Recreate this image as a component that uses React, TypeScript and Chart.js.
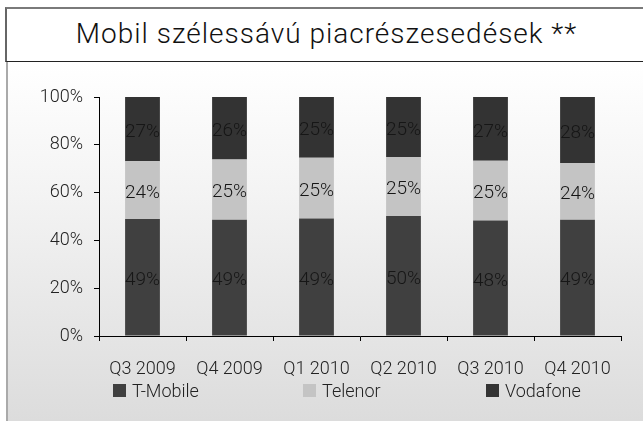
import React, { useEffect, useRef } from "react";
import { Chart, registerables } from "chart.js";

Chart.register(...registerables);

const TITLE = "Mobil szélessávú piacrészesedések **";
const categories = ["Q3 2009", "Q4 2009", "Q1 2010", "Q2 2010", "Q3 2010", "Q4 2010"];
const seriesNames = ["T-Mobile", "Telenor", "Vodafone"];
const tMobile = [49.0, 48.6, 49.2, 50.2, 48.3, 48.6];
const telenor = [24.1, 25.2, 25.4, 24.7, 25.0, 23.8];
const vodafone = [26.9, 26.2, 25.4, 25.1, 26.7, 27.6];
const seriesColors = ["#404040", "#c4c4c4", "#333333"];
const yTicks = [0, 20, 40, 60, 80, 100];

const FONT = 'Roboto, "Liberation Sans", sans-serif';
const TEXT = "#222222";
const FS = 18;
const LEGEND_X = [113, 303, 486];

const valueLabels = {
  id: "valueLabels",
  afterDatasetsDraw(chart: any) {
    const ctx = chart.ctx;
    ctx.save();
    ctx.font = `300 ${FS + 1}px ${FONT}`;
    ctx.fillStyle = "#161616";
    ctx.textAlign = "center";
    ctx.textBaseline = "middle";
    chart.data.datasets.forEach((ds: any, di: number) => {
      const meta = chart.getDatasetMeta(di);
      meta.data.forEach((el: any, i: number) => {
        const { x, y, base } = el.getProps(["x", "y", "base"], true);
        ctx.fillText(Math.round(ds.data[i]) + "%", x, (y + base) / 2 + 3);
      });
    });
    ctx.restore();
  },
};

export default function App() {
  const ref = useRef<HTMLCanvasElement>(null);

  useEffect(() => {
    const series = [tMobile, telenor, vodafone];
    const chart = new Chart(ref.current as HTMLCanvasElement, {
      type: "bar",
      data: {
        labels: categories,
        datasets: seriesNames.map((name, i) => ({
          label: name,
          data: series[i],
          backgroundColor: seriesColors[i],
          borderWidth: 0,
          categoryPercentage: 1,
          barPercentage: 0.4,
        })),
      },
      options: {
        animation: false,
        responsive: false,
        maintainAspectRatio: false,
        layout: { padding: { left: 0, top: 35, right: 22, bottom: 40 } },
        plugins: {
          legend: { display: false },
          title: { display: false },
          tooltip: { enabled: false },
        },
        scales: {
          x: {
            stacked: true,
            offset: true,
            grid: {
              offset: true,
              drawOnChartArea: false,
              tickLength: 5,
              color: "#000",
            },
            border: { color: "#000", width: 1 },
            ticks: {
              color: TEXT,
              font: { family: FONT, size: FS, weight: "300" },
              padding: 18,
              maxRotation: 0,
            },
            afterFit: (s: any) => {
              s.height = 45;
            },
          },
          y: {
            stacked: true,
            min: 0,
            max: 100,
            afterBuildTicks: (s: any) => {
              s.ticks = yTicks.map((v) => ({ value: v }));
            },
            grid: { drawOnChartArea: false, tickLength: 5, color: "#000" },
            border: { color: "#000", width: 1 },
            ticks: {
              color: TEXT,
              font: { family: FONT, size: FS, weight: "300" },
              padding: 11,
              callback: (v: any) => v + "%",
            },
            afterFit: (s: any) => {
              s.width = 99;
            },
          },
        },
      },
      plugins: [valueLabels],
    });
    return () => chart.destroy();
  }, []);

  return (
    <div
      style={{
        position: "absolute",
        left: 0,
        top: 0,
        width: 643,
        height: 421,
        overflow: "hidden",
        fontFamily: FONT,
        fontWeight: 300,
        color: TEXT,
        background: "#fff",
      }}
    >
      <div
        style={{
          position: "absolute",
          left: 5,
          top: 7,
          width: 645,
          height: 55,
          boxSizing: "border-box",
          borderTop: "2px solid #7a7a7a",
          borderLeft: "2px solid #666",
          borderBottom: "1px solid #222",
          textAlign: "center",
          fontSize: 28,
          lineHeight: "28px",
          letterSpacing: 1,
          paddingTop: 11,
          paddingRight: 4,
          color: "#111",
        }}
      >
        {TITLE}
      </div>
      <div
        style={{
          position: "absolute",
          left: 6,
          top: 62,
          width: 637,
          height: 359,
          boxSizing: "border-box",
          borderLeft: "2px solid #aaa",
          background: "linear-gradient(to bottom, #ffffff 0%, #f4f4f4 35%, #dcdcdc 100%)",
        }}
      />
      <canvas
        ref={ref}
        width={643}
        height={359}
        style={{ position: "absolute", left: 0, top: 62, width: 643, height: 359 }}
      />
      {seriesNames.map((name, i) => (
        <div
          key={name}
          style={{
            position: "absolute",
            left: LEGEND_X[i],
            top: 381,
            display: "flex",
            alignItems: "center",
            fontSize: FS,
            lineHeight: "19px",
            whiteSpace: "nowrap",
          }}
        >
          <span
            style={{
              display: "inline-block",
              width: 13,
              height: 13,
              background: seriesColors[i],
              marginRight: 6,
            }}
          />
          <span>{name}</span>
        </div>
      ))}
    </div>
  );
}
